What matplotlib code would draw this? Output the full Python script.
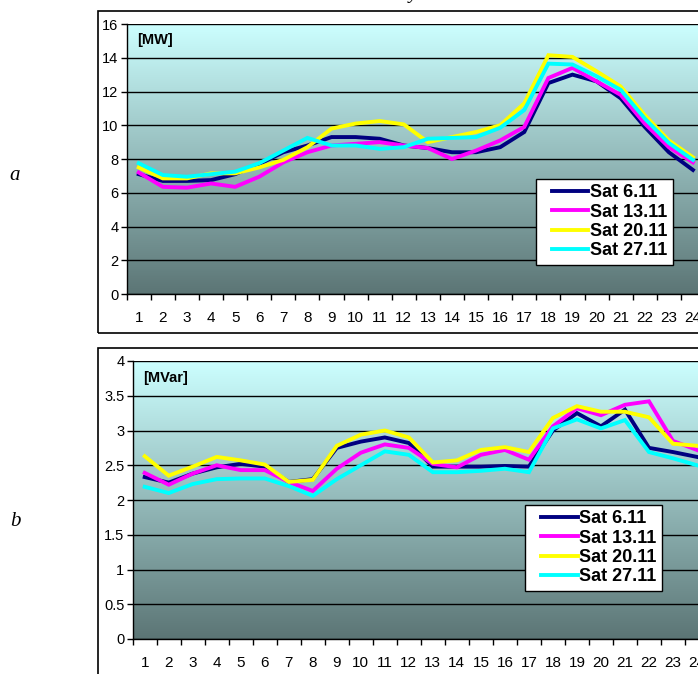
import numpy as np
import matplotlib.pyplot as plt
from matplotlib.patches import Rectangle
from matplotlib.legend_handler import HandlerLine2D

# ------------------------------------------------------------------
# data
# ------------------------------------------------------------------
hours = list(range(1, 25))
series_names = ['Sat 6.11', 'Sat 13.11', 'Sat 20.11', 'Sat 27.11']
series_colors = ['#000080', '#FF00FF', '#FFFF00', '#00FFFF']

# a) active power [MW]
p_sat06 = [7.1, 6.7, 6.7, 6.75, 7.1, 7.7, 8.4, 8.8, 9.3, 9.3, 9.2, 8.8,
           8.65, 8.4, 8.4, 8.7, 9.6, 12.5, 13.0, 12.6, 11.6, 9.9, 8.4, 7.35]
p_sat13 = [7.2, 6.35, 6.3, 6.55, 6.35, 6.95, 7.8, 8.4, 8.8, 8.9, 9.0, 8.8,
           8.65, 8.0, 8.5, 9.1, 9.9, 12.8, 13.4, 12.6, 11.8, 10.1, 8.7, 7.8]
p_sat20 = [7.5, 6.85, 6.85, 7.15, 7.15, 7.5, 7.95, 8.7, 9.8, 10.1, 10.25, 10.05,
           9.0, 9.3, 9.6, 10.0, 11.3, 14.15, 14.05, 13.2, 12.3, 10.6, 9.1, 8.1]
p_sat27 = [7.75, 7.05, 6.95, 7.1, 7.25, 7.75, 8.5, 9.25, 8.8, 8.8, 8.6, 8.7,
           9.2, 9.25, 9.3, 9.85, 10.9, 13.65, 13.6, 12.9, 12.1, 10.4, 8.95, 7.95]

# b) reactive power [MVar]
q_sat06 = [2.33, 2.25, 2.38, 2.47, 2.52, 2.48, 2.26, 2.3, 2.75, 2.84, 2.9, 2.82,
           2.48, 2.48, 2.48, 2.49, 2.48, 3.0, 3.25, 3.06, 3.3, 2.75, 2.69, 2.62]
q_sat13 = [2.39, 2.22, 2.38, 2.5, 2.43, 2.43, 2.26, 2.13, 2.45, 2.68, 2.8, 2.75,
           2.52, 2.47, 2.65, 2.72, 2.58, 3.06, 3.32, 3.22, 3.37, 3.42, 2.85, 2.72]
q_sat20 = [2.63, 2.35, 2.48, 2.62, 2.57, 2.51, 2.26, 2.29, 2.78, 2.94, 3.0, 2.9,
           2.54, 2.57, 2.72, 2.76, 2.69, 3.18, 3.35, 3.27, 3.27, 3.19, 2.81, 2.78]
q_sat27 = [2.19, 2.1, 2.23, 2.3, 2.31, 2.31, 2.2, 2.06, 2.3, 2.5, 2.7, 2.65,
           2.4, 2.4, 2.42, 2.45, 2.4, 3.03, 3.16, 3.03, 3.15, 2.69, 2.6, 2.5]

plt.rcParams['font.family'] = ['Liberation Sans', 'DejaVu Sans']

W, H = 698, 674
fig = plt.figure(figsize=(W / 100, H / 100), dpi=100)


def px_box(left, top, right, bottom):
    return [left / W, 1 - bottom / H, (right - left) / W, (bottom - top) / H]


def gradient_bg(ax):
    top = np.array([0.80, 1.00, 1.00])
    bot = np.array([0.36, 0.46, 0.46])
    t = np.linspace(0, 1, 256)[:, None]
    img = (top * (1 - t) + bot * t)[:, None, :]
    ax.imshow(img, extent=[0, 1, 0, 1], transform=ax.transAxes,
              aspect='auto', zorder=0, interpolation='bilinear')


def draw_panel(ax, data, ymax, ystep, unit, legend_box, ylabels):
    gradient_bg(ax)
    lines = []
    for vals, name, col in zip(data, series_names, series_colors):
        ln, = ax.plot(hours, vals, color=col, lw=2.8, label=name, zorder=3,
                      solid_joinstyle='miter')
        lines.append(ln)
    ax.set_xlim(0.5, 24.5)
    ax.set_ylim(0, ymax)
    yt = np.arange(0, ymax + ystep / 2, ystep)
    ax.set_yticks(yt)
    ax.set_yticklabels(ylabels)
    ax.set_xticks(hours)
    ax.set_xticks(np.arange(0.5, 25, 1), minor=True)
    ax.tick_params(axis='x', which='major', length=0, pad=12, labelsize=11)
    ax.tick_params(axis='x', which='minor', length=4, width=1, direction='out')
    ax.tick_params(axis='y', length=4, width=1, direction='out', pad=2,
                   labelsize=10.5)
    ax.grid(axis='y', color='black', lw=1.0, zorder=1)
    ax.set_axisbelow(True)
    for s in ['top', 'right']:
        ax.spines[s].set_visible(False)
    for s in ['left', 'bottom']:
        ax.spines[s].set_linewidth(1.0)
        ax.spines[s].set_zorder(4)
    ax.text(0.018, 0.94, unit, transform=ax.transAxes, fontsize=10.5,
            fontweight='bold', va='center', ha='left', zorder=5)
    leg = ax.legend(handles=lines, loc='upper left', bbox_to_anchor=legend_box,
                    borderaxespad=0, frameon=True, fancybox=False,
                    edgecolor='black', framealpha=1, handlelength=2.6,
                    handletextpad=0.1, labelspacing=0.13, borderpad=0.3,
                    handler_map={ln: HandlerLine2D(xpad=0.6) for ln in lines},
                    prop={'weight': 'bold', 'size': 13})
    leg.get_frame().set_linewidth(1.0)
    leg.set_zorder(6)


# panel a
ax1 = fig.add_axes(px_box(126.7, 24, 705, 294))
draw_panel(ax1, [p_sat06, p_sat13, p_sat20, p_sat27], 16, 2, '[MW]',
           (0.708, 0.426), [str(v) for v in range(0, 17, 2)])

# panel b
ax2 = fig.add_axes(px_box(132.7, 361, 709, 639))
draw_panel(ax2, [q_sat06, q_sat13, q_sat20, q_sat27], 4, 0.5, '[MVar]',
           (0.681, 0.482),
           ['0', '0.5', '1', '1.5', '2', '2.5', '3', '3.5', '4'])

# outer frames of the two chart objects
fig.patches.append(Rectangle((98 / W, 1 - 333 / H), 1.0, (333 - 10.7) / H,
                             transform=fig.transFigure, fill=False,
                             edgecolor='black', lw=1.2, zorder=10))
fig.patches.append(Rectangle((98 / W, -0.1), 1.0, (0.1 + 1 - 348 / H),
                             transform=fig.transFigure, fill=False,
                             edgecolor='black', lw=1.2, zorder=10))

# panel letters
fig.text(15 / W, 1 - 175 / H, 'a', fontsize=15, style='italic',
         family='Liberation Serif', ha='center', va='center')
fig.text(15 / W, 1 - 521 / H, 'b', fontsize=15, style='italic',
         family='Liberation Serif', ha='center', va='center')
# cut-off caption above the figure
fig.text(413 / W, 1 + 1 / H, 'y', fontsize=14, style='italic',
         family='Liberation Serif', ha='center', va='baseline')

fig.savefig('out.png', dpi=100)
